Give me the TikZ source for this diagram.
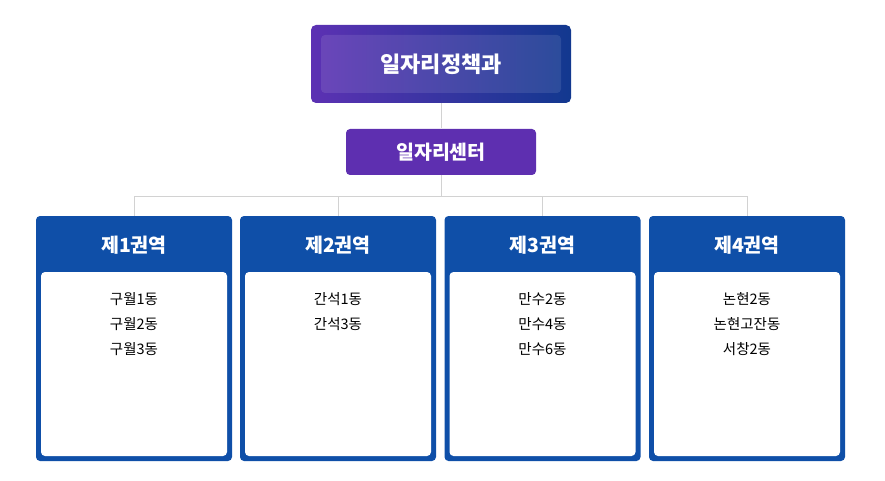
\documentclass[tikz,border=0pt]{standalone}
\usepackage{fontspec}
\setmainfont{Noto Sans CJK KR}
\definecolor{deptleft}{HTML}{5C31B3}
\definecolor{deptright}{HTML}{12388F}
\definecolor{centerpurple}{HTML}{5E2FB0}
\definecolor{areablue}{HTML}{0F4FA8}
\definecolor{linegray}{HTML}{D2D2D2}

\begin{document}
\begin{tikzpicture}[x=1pt,y=-1pt,
	line width=1pt,
	dept node/.style={rounded corners=5pt,minimum width=260pt,minimum height=78pt,left color=deptleft,right color=deptright},
	inner node/.style={rounded corners=4pt,minimum width=240pt,minimum height=58pt,fill=white,fill opacity=0.1,text opacity=1,text=white,font=\fontsize{22}{26}\selectfont\bfseries},
	center node/.style={rounded corners=4pt,fill=centerpurple,minimum width=190pt,minimum height=46pt,text=white,font=\fontsize{19.5}{23}\selectfont\bfseries},
	area node/.style={rounded corners=4pt,fill=areablue,minimum width=196pt,minimum height=245pt},
	body node/.style={rounded corners=4pt,fill=white,minimum width=186pt,minimum height=184pt},
	head node/.style={text=white,font=\fontsize{19.5}{23}\selectfont\bfseries},
	list node/.style={anchor=north,align=center,font=\fontsize{14.5}{25}\selectfont}]

	\useasboundingbox (0,0) rectangle (885,481);

	\node[dept node] (dept) at (441,64) {};
	\node[inner node] (title) at (441,64) {일자리정책과};
	\node[center node] (center) at (441,152) {일자리센터};
	\coordinate (branch) at (441,196);

	\node[area node] (a1) at (134,338.5) {};
	\node[area node] (a2) at (338,338.5) {};
	\node[area node] (a3) at (542.5,338.5) {};
	\node[area node] (a4) at (747,338.5) {};

	\node[head node] (h1) at (134,245) {제1권역};
	\node[head node] (h2) at (338,245) {제2권역};
	\node[head node] (h3) at (542.5,245) {제3권역};
	\node[head node] (h4) at (747,245) {제4권역};

	\node[body node] (b1) at (134,364) {};
	\node[body node] (b2) at (338,364) {};
	\node[body node] (b3) at (542.5,364) {};
	\node[body node] (b4) at (747,364) {};

	\node[list node] (l1) at (134,289) {구월1동\\구월2동\\구월3동};
	\node[list node] (l2) at (338,289) {간석1동\\간석3동};
	\node[list node] (l3) at (542.5,289) {만수2동\\만수4동\\만수6동};
	\node[list node] (l4) at (747,289) {논현2동\\논현고잔동\\서창2동};

	\draw[linegray] (dept) -- (center);
	\draw[linegray] (center) -- (branch);
	\draw[linegray] (branch) -| (a1);
	\draw[linegray] (branch) -| (a2);
	\draw[linegray] (branch) -| (a3);
	\draw[linegray] (branch) -| (a4);
\end{tikzpicture}
\end{document}
